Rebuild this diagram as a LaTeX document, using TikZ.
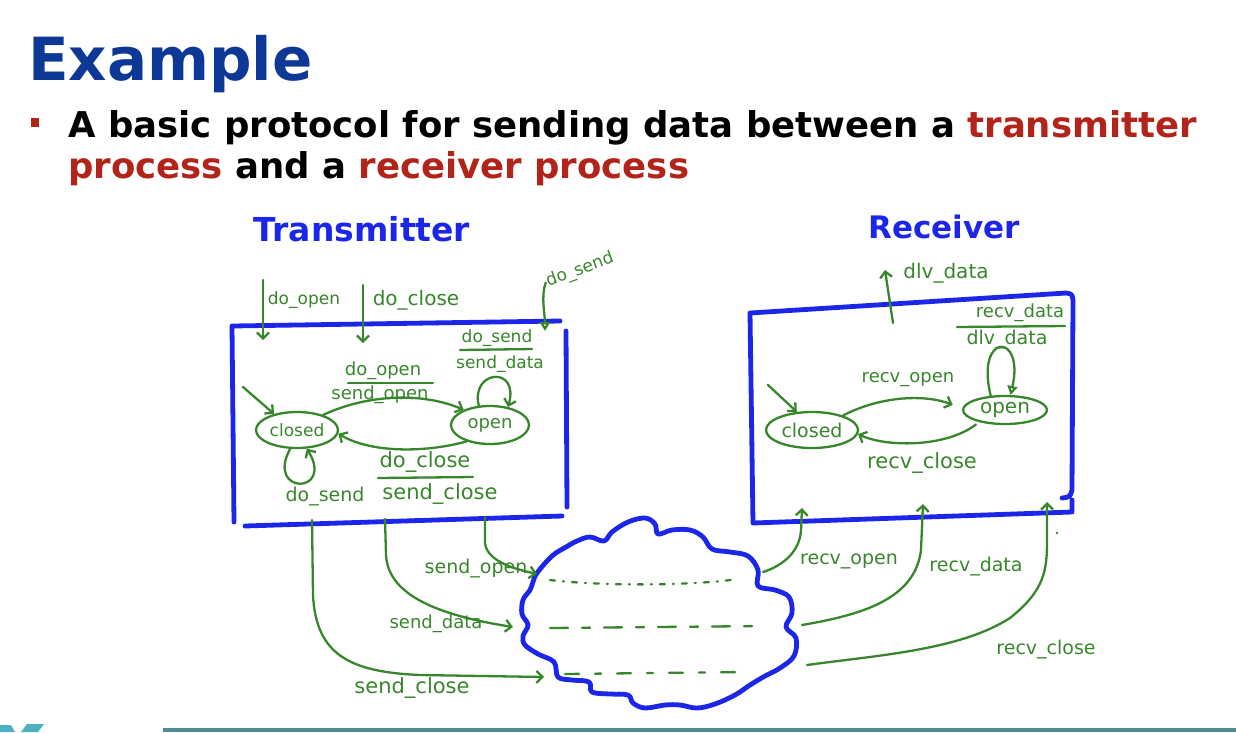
\documentclass[tikz,border=0pt]{standalone}
\usepackage{fontspec}
\setmainfont{DejaVu Sans}
\usetikzlibrary{arrows.meta,shapes.geometric}

\definecolor{titleblue}{RGB}{14,56,150}
\definecolor{accentred}{RGB}{178,36,26}
\definecolor{inkgreen}{RGB}{56,134,44}
\definecolor{inkblue}{RGB}{28,38,232}
\definecolor{barteal}{RGB}{80,138,146}
\definecolor{logoteal}{RGB}{76,176,190}

\tikzset{
  ink/.style={draw=inkgreen, line width=2.3pt, line cap=round, line join=round},
  flow/.style={ink, -{Straight Barb[length=6pt,width=12pt]}},
  tri/.style={ink, -{Triangle[open,length=9pt,width=10pt]}},
  frame/.style={draw=inkblue, line width=4.8pt, line cap=round, line join=round},
  hw/.style={text=inkgreen, inner sep=1pt, font=\fontsize{#1pt}{#1pt}\selectfont},
  state/.style={ellipse, draw=inkgreen, line width=2.3pt, inner sep=0pt, text=inkgreen},
  heading/.style={text=inkblue, inner sep=0pt, font=\fontsize{#1pt}{#1pt}\selectfont\bfseries},
}

\begin{document}
\begin{tikzpicture}[x=1pt,y=-1pt]
\useasboundingbox (0,0) rectangle (1236,732);

% ---------- slide title and bullet ----------
\node[anchor=base west, inner sep=0pt, text=titleblue,
      font=\fontsize{59.5pt}{59.5pt}\selectfont\bfseries] (title) at (28,80) {Example};
\fill[accentred] (31,118) rectangle (39,127);
\node[anchor=base west, inner sep=0pt, font=\fontsize{35.5pt}{35.5pt}\selectfont\bfseries]
  (line1) at (68,137) {A basic protocol for sending data between a \textcolor{accentred}{transmitter}};
\node[anchor=base west, inner sep=0pt, font=\fontsize{35.5pt}{35.5pt}\selectfont\bfseries]
  (line2) at (68,178) {\textcolor{accentred}{process} and a \textcolor{accentred}{receiver process}};

% ---------- headings ----------
\node[heading=33] (txHead) at (362,229) {Transmitter};
\node[heading=31] (rxHead) at (944,227) {Receiver};

% ---------- transmitter frame ----------
\draw[frame] (560,321) -- (232,326) -- (234,522);
\draw[frame] (566,331) -- (567,507);
\draw[frame] (245,526) -- (562,516);

% ---------- receiver frame ----------
\draw[frame] (1062,498) .. controls (1070,497) .. (1072,490) -- (1073,300)
  .. controls (1072,294) .. (1066,293) -- (750,313) -- (753,523) -- (1072,512) -- (1072,500);

% ---------- transmitter state machine ----------
\node[state, minimum width=82pt, minimum height=36pt, font=\fontsize{17pt}{17pt}\selectfont] (closedT) at (297,430) {closed};
\node[state, minimum width=78pt, minimum height=38pt, font=\fontsize{18pt}{18pt}\selectfont] (openT) at (490,425) {open};

\coordinate (initT) at (243,387);
\draw[flow] (initT) -- (closedT.145);
\draw[flow] (closedT.30) .. controls (370,393) and (425,393) .. (openT.150);
\draw[flow] (openT.215) .. controls (425,453) and (370,453) .. (closedT.-5);
\draw[flow] (closedT.-110) .. controls (265,495) and (335,495) .. (closedT.-62);
\draw[flow] (openT.120) .. controls (470,370) and (520,365) .. (openT.45);

\node[hw=18] (tNum1) at (383,371) {do\_open};
\draw[ink] (348,383) -- (433,383);
\node[hw=18] (tDen1) at (380,395) {send\_open};

\node[hw=17] (tNum2) at (497,338) {do\_send};
\draw[ink] (460,350) -- (532,349);
\node[hw=17] (tDen2) at (500,364) {send\_data};

\node[hw=21] (tNum3) at (425,462) {do\_close};
\draw[ink] (378,478) -- (473,477);
\node[hw=21] (tDen3) at (440,494) {send\_close};

\node[hw=19] (tLoop) at (325,497) {do\_send};

% ---------- transmitter inputs ----------
\coordinate (inOpenSrc) at (263,280);
\coordinate (inOpenDst) at (263,340);
\draw[flow] (inOpenSrc) -- (inOpenDst);
\node[hw=17] (inOpenLbl) at (304,300) {do\_open};

\coordinate (inCloseSrc) at (363,285);
\coordinate (inCloseDst) at (363,343);
\draw[flow] (inCloseSrc) -- (inCloseDst);
\node[hw=20] (inCloseLbl) at (416,300) {do\_close};

\node[hw=17, rotate=20] (inSendLbl) at (580,270) {do\_send};
\coordinate (inSendDst) at (545,331);
\draw[tri] (inSendLbl.west) .. controls +(-5,14) and +(0,-16) .. (inSendDst);

% ---------- network cloud ----------
\draw[frame] plot[smooth cycle, tension=0.6] coordinates {
  (537,573) (552,556) (566,547) (577,541) (590,537) (604,541) (612,532) (628,522)
  (645,518) (655,524) (658,534) (672,530) (690,530) (703,537) (712,549) (730,552)
  (748,556) (758,570) (758,586) (775,590) (789,597) (792,613) (786,627) (796,638)
  (794,656) (780,668) (765,676) (750,685) (735,695) (715,704) (697,708) (680,705)
  (665,705) (645,708) (633,703) (628,695) (610,694) (592,692) (589,682) (572,680)
  (558,677) (554,662) (538,654) (525,645) (523,636) (528,625) (522,614) (523,600)
  (530,590) (533,582)};

\draw[ink, dash pattern=on 5pt off 8pt on 1pt off 8pt] (550,580) .. controls (600,586) and (690,586) .. (738,579);
\draw[ink, dash pattern=on 18pt off 14pt on 8pt off 14pt] (550,628) -- (763,626);
\draw[ink, dash pattern=on 14pt off 16pt on 6pt off 16pt] (565,674) -- (743,672);

% ---------- transmitter outputs ----------
\coordinate (soSrc) at (485,517);
\coordinate (soDst) at (537,574);
\draw[flow] (soSrc) -- (485,543) .. controls (487,560) and (510,568) .. (soDst);
\node[hw=19] (soLbl) at (476,569) {send\_open};

\coordinate (sdSrc) at (385,519);
\coordinate (sdDst) at (513,627);
\draw[flow] (sdSrc) -- (386,555) .. controls (388,592) and (430,614) .. (sdDst);
\node[hw=18] (sdLbl) at (436,624) {send\_data};

\coordinate (scSrc) at (312,520);
\coordinate (scDst) at (544,677);
\draw[flow] (scSrc) -- (313,595) .. controls (316,655) and (350,672) .. (420,675) -- (scDst);
\node[hw=21] (scLbl) at (412,688) {send\_close};

% ---------- receiver inputs ----------
\coordinate (roSrc) at (763,572);
\coordinate (roDst) at (802,508);
\draw[flow] (roSrc) .. controls (785,565) and (800,550) .. (801,530) -- (roDst);
\node[hw=19] (roLbl) at (849,561) {recv\_open};

\coordinate (rdSrc) at (802,625);
\coordinate (rdDst) at (923,504);
\draw[flow] (rdSrc) .. controls (860,615) and (915,600) .. (921,550) -- (rdDst);
\node[hw=19] (rdLbl) at (976,567) {recv\_data};

\coordinate (rcSrc) at (807,665);
\coordinate (rcDst) at (1047,502);
\draw[flow] (rcSrc) .. controls (880,655) and (960,650) .. (1010,618)
  .. controls (1045,590) and (1047,570) .. (1047,540) -- (rcDst);
\node[hw=19] (rcLbl) at (1046,650) {recv\_close};
\fill[inkgreen] (1057,533) circle (1.3pt);

% ---------- receiver state machine ----------
\node[state, minimum width=92pt, minimum height=36pt, font=\fontsize{19pt}{19pt}\selectfont] (closedR) at (812,430) {closed};
\node[state, minimum width=84pt, minimum height=28pt, font=\fontsize{20pt}{20pt}\selectfont] (openR) at (1005,410) {open};

\coordinate (initR) at (768,385);
\draw[flow] (initR) -- (closedR.130);
\draw[flow, shorten >=10pt] (closedR.25) .. controls (880,396) and (925,394) .. (openR.178);
\node[hw=18] (rOpenLbl) at (908,380) {recv\_open};
\draw[flow, shorten <=4pt] (openR.205) .. controls (945,448) and (885,447) .. (closedR.-5);
\node[hw=21] (rCloseLbl) at (922,463) {recv\_close};
\draw[tri] (openR.135) .. controls (975,332) and (1025,332) .. (openR.70);

\node[hw=18] (rNum) at (1020,313) {recv\_data};
\draw[ink] (957,327) -- (1065,326);
\node[hw=19] (rDen) at (1007,340) {dlv\_data};

\coordinate (dlvSrc) at (893,323);
\coordinate (dlvDst) at (885,270);
\draw[flow] (dlvSrc) -- (dlvDst);
\node[hw=20] (dlvLbl) at (946,273) {dlv\_data};

% ---------- footer ----------
\fill[barteal] (163,728) rectangle (1236,732);
\fill[logoteal] (0,725) -- (11,725) -- (15,732) -- (0,732) -- cycle;
\fill[logoteal] (27,724) -- (44,724) -- (38,732) -- (21,732) -- cycle;
\end{tikzpicture}
\end{document}
